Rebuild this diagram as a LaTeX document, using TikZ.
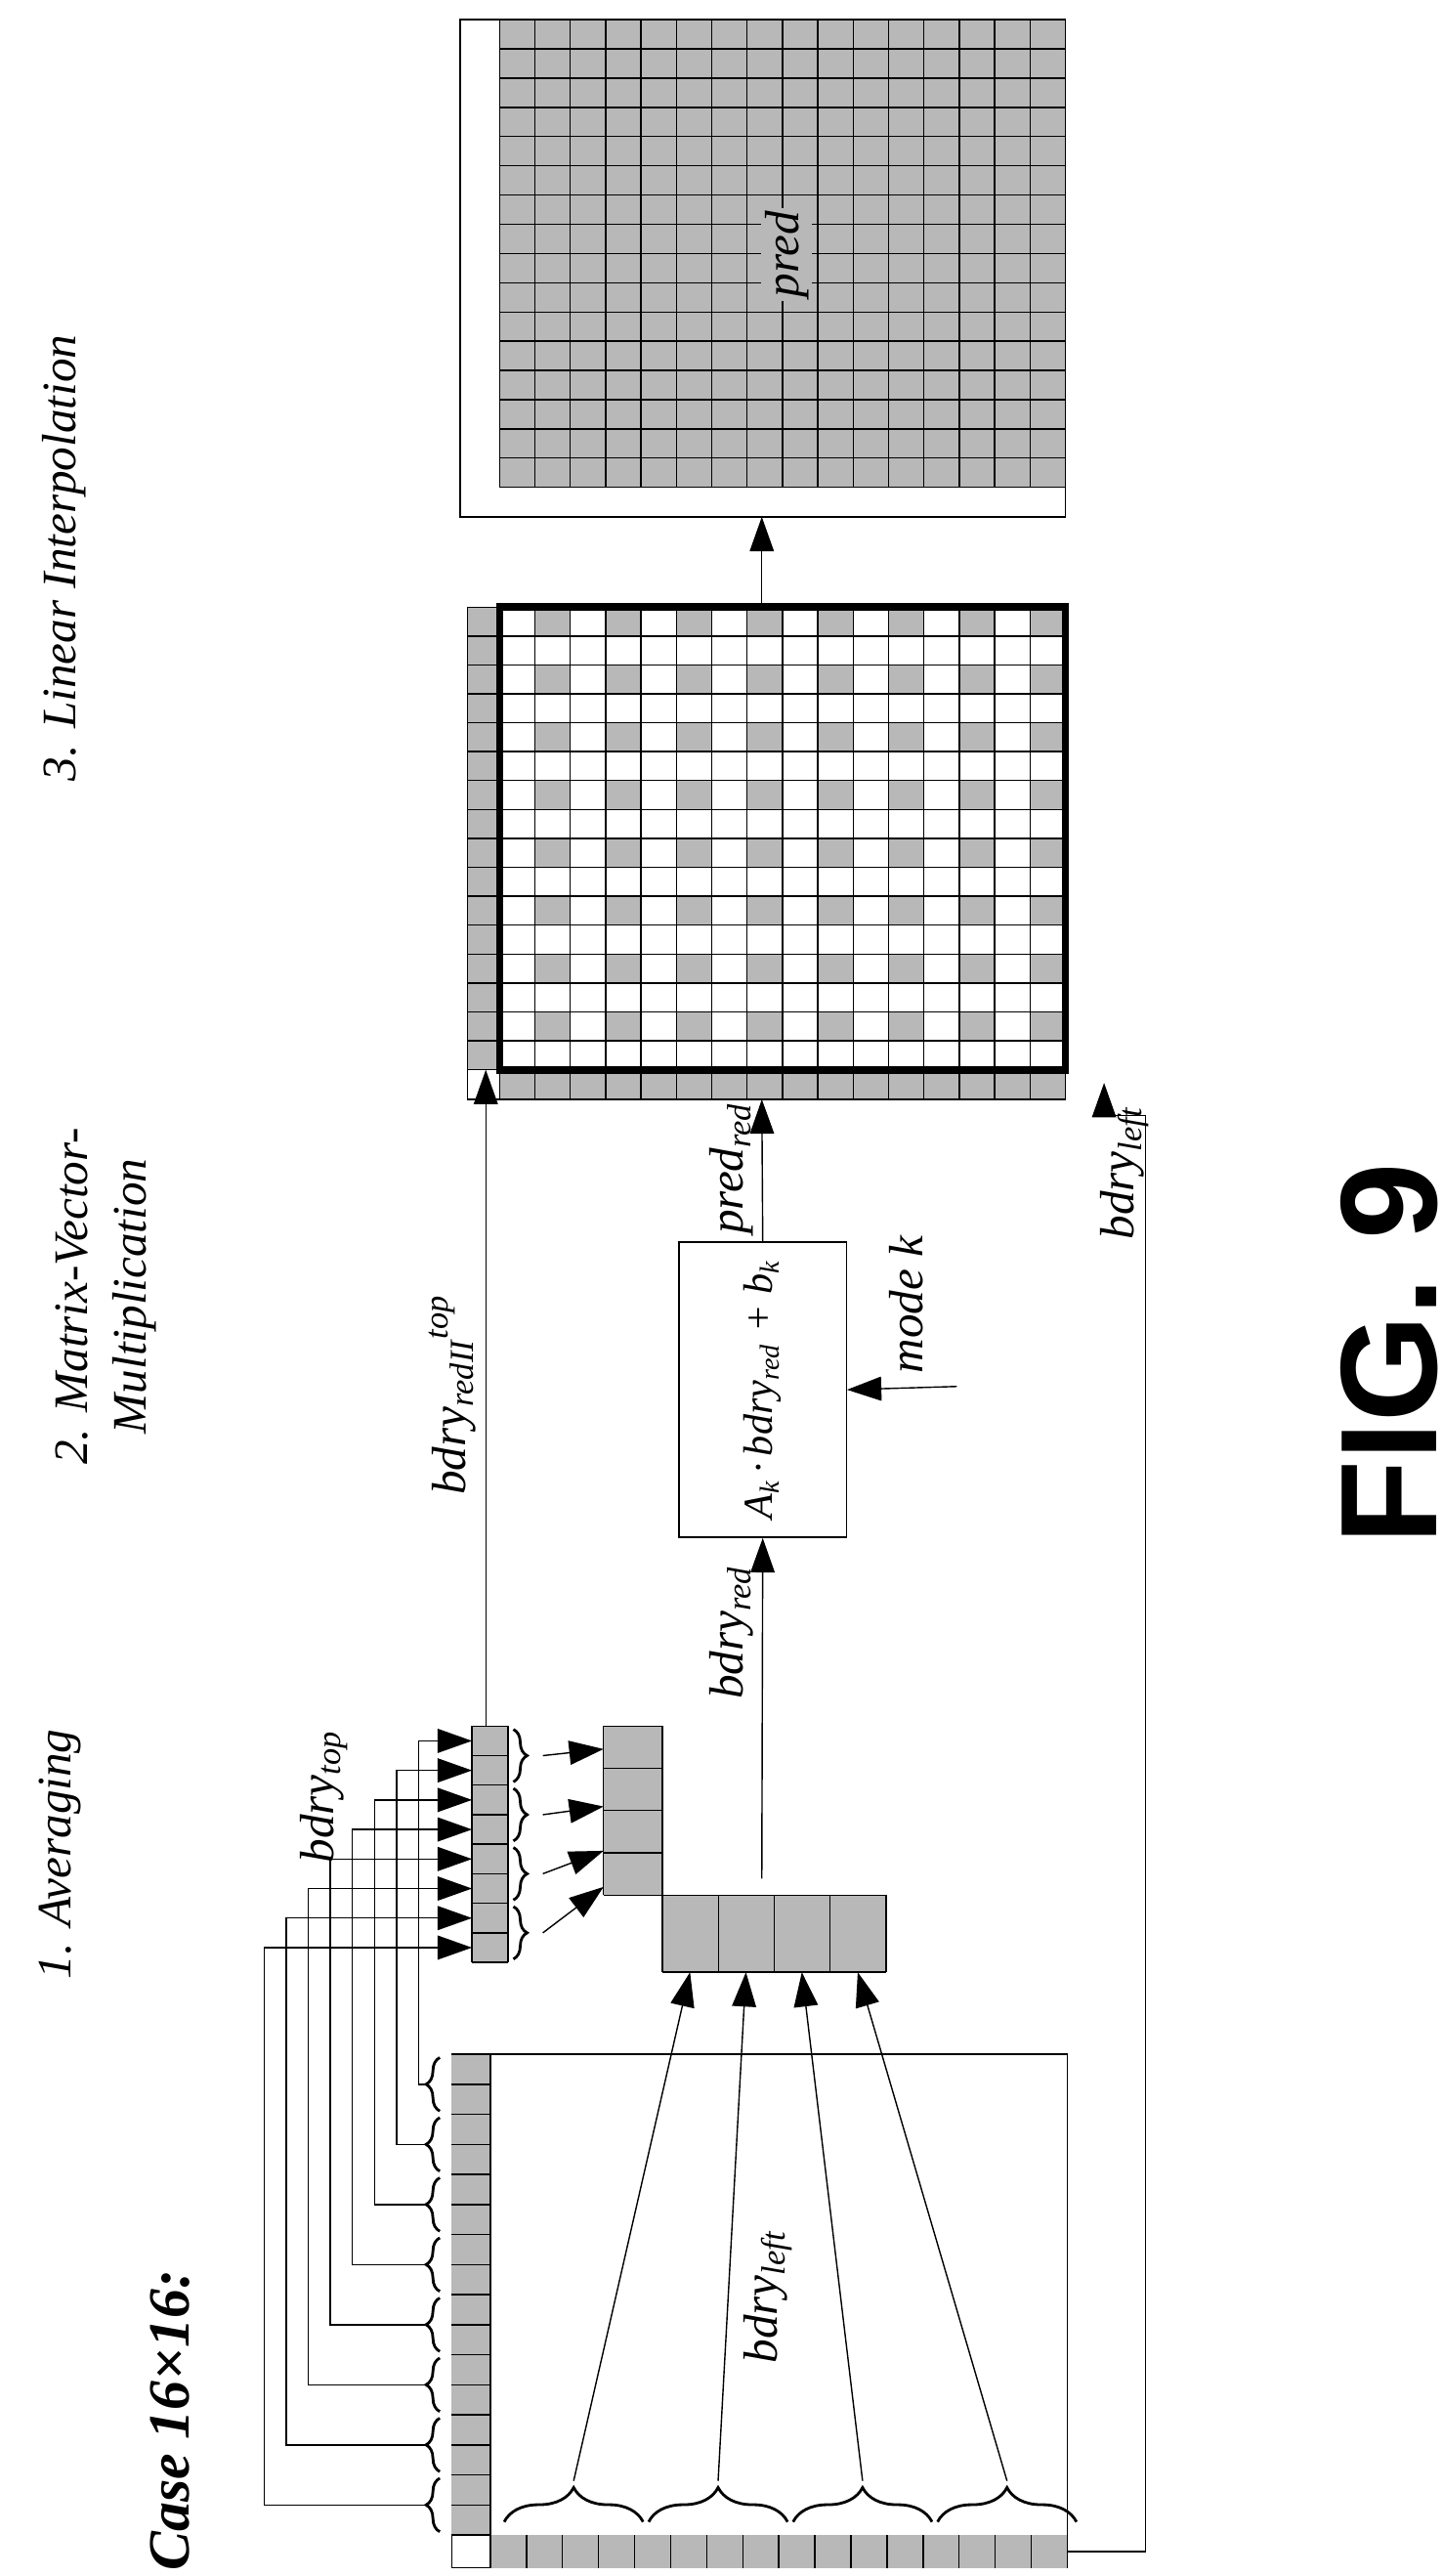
\documentclass[tikz,border=0pt]{standalone}
\usepackage{fontspec}
\setmainfont{Liberation Serif}
\newfontfamily\figfont{Liberation Sans}
\usetikzlibrary{arrows.meta, decorations.pathreplacing}
\definecolor{cellgray}{gray}{0.72}
\newcommand{\lsub}[2]{\textit{#1}\textsubscript{\textit{#2}}}

\begin{document}
\begin{tikzpicture}[x={(0.00942cm,0)}, y={(0,-0.01679cm)}]

\tikzset{cellbox/.style = {draw, thin}}
\tikzset{lbl/.style = {rotate=90, inner sep=1pt, font=\fontsize{14}{17}\selectfont\itshape}}
\tikzset{arr/.style = {-{Triangle[length=10pt,width=7pt]}, thin}}
\tikzset{brc/.style = {decorate, decoration={brace, amplitude=4pt}, thick}}

\useasboundingbox (0,0) rectangle (1568,1570);

% stage titles
\node[lbl] (avg) at (65,1130) {1. Averaging};
\node[lbl, align=center] (mvmt) at (115,790) {2. Matrix-Vector-\\Multiplication};
\node[lbl] (lint) at (70,340) {3. Linear Interpolation};
\node[lbl, font=\fontsize{17}{20}\selectfont\bfseries\itshape] (case) at (185,1475) {Case 16×16:};
\node[rotate=90, font=\fontsize{40}{44}\selectfont\figfont\bfseries] (fig) at (1510,825) {FIG. 9};

% final prediction
\fill[cellgray] (543,12) rectangle (1158,297);
\foreach \i in {0,...,16} \draw ({543+\i*38.4375},12) -- ({543+\i*38.4375},297);
\foreach \j in {0,...,16} \draw (543,{12+\j*17.8125}) -- (1158,{12+\j*17.8125});
\draw (500,12) rectangle (1158,315);
\node[lbl, fill=cellgray] (pred) at (855,155) {pred};
\coordinate (predin) at (828,315);

% reduced prediction inside 16x16
\fill[cellgray] (508,370) rectangle (543,652);
\fill[cellgray] (543,652) rectangle (1158,670);
\foreach \c in {1,3,...,15}
  \foreach \r in {0,2,...,14}
    \fill[cellgray] ({543+\c*38.4375},{370+\r*17.625}) rectangle +(38.4375,17.625);
\foreach \i in {0,...,16} \draw ({543+\i*38.4375},370) -- ({543+\i*38.4375},670);
\draw (508,370) -- (508,670);
\foreach \j in {0,...,16} \draw (508,{370+\j*17.625}) -- (1158,{370+\j*17.625});
\draw (508,670) -- (1158,670);
\draw[line width=2.2pt] (543,370) rectangle (1158,652);
\coordinate (midout) at (828,370);
\coordinate (midin) at (828,670);
\coordinate (topin) at (528,652);
\coordinate (leftin) at (1200,660);

% matrix vector box
\node[rotate=90, draw, minimum width=3.02cm, minimum height=1.71cm, font=\fontsize{12}{15}\selectfont\itshape] (mvm) at (829,847)
  {A\textsubscript{k}\,·\,\lsub{bdry}{red} + b\textsubscript{k}};
\coordinate (modek) at (1040,845);
\node[lbl] (modelbl) at (985,795) {mode k};

% boundary block
\draw (491,1252) rectangle (1160,1565);
\fill[cellgray] (491,1252) rectangle (533,1545);
\fill[cellgray] (533,1545) rectangle (1160,1565);
\foreach \j in {0,...,16} \draw (491,{1252+\j*18.3125}) -- (533,{1252+\j*18.3125});
\draw (533,1252) -- (533,1565);
\foreach \i in {0,...,16} \draw ({533+\i*39.1875},1545) -- ({533+\i*39.1875},1565);
\coordinate (blkout) at (1160,1555);
\node[lbl] (bleft) at (835,1400) {\lsub{bdry}{left}};

% averaged top boundary (8) and reduced vectors
\fill[cellgray] (513,1052) rectangle (552,1196);
\foreach \j in {0,...,8} \draw (513,{1052+\j*18}) -- (552,{1052+\j*18});
\draw (513,1052) -- (513,1196) (552,1052) -- (552,1196);
\fill[cellgray] (656,1052) rectangle (720,1155);
\foreach \j in {0,...,4} \draw (656,{1052+\j*25.75}) -- (720,{1052+\j*25.75});
\draw (656,1052) -- (656,1155) (720,1052) -- (720,1155);
\fill[cellgray] (720,1155) rectangle (963,1202);
\foreach \i in {0,...,4} \draw ({720+\i*60.75},1155) -- ({720+\i*60.75},1202);
\draw (720,1155) -- (963,1155) (720,1202) -- (963,1202);
\coordinate (col8) at (528,1052);
\coordinate (redout) at (828,1145);
\node[lbl] (btop) at (352,1095) {\lsub{bdry}{top}};

% wires from top boundary pairs
\foreach \i in {1,...,8} {
  \draw[brc] (478,{1252+36.625*\i-2}) -- (478,{1252+36.625*(\i-1)+2});
  \coordinate (b\i) at (462,{1252+36.625*(\i-0.5)});
  \coordinate (a\i) at (513,{1061+(\i-1)*18});
  \draw[arr] (b\i) -- ({455-(\i-1)*24},{1252+36.625*(\i-0.5)}) -- ({455-(\i-1)*24},{1061+(\i-1)*18}) -- (a\i);
}

% pairs of the 8 into reduced top
\foreach \k/\t in {1/1066, 2/1101, 3/1128, 4/1150} {
  \draw[brc] (558,{1052+36*(\k-1)+2}) -- (558,{1052+36*\k-2});
  \coordinate (s\k) at (590,{1052+36*(\k-0.5)});
  \coordinate (t\k) at (656,\t);
  \draw[arr] (s\k) -- (t\k);
}

% groups of the left boundary into reduced left
\foreach \k in {0,...,3} {
  \draw[brc, decoration={amplitude=10pt}] ({548+157*\k},1537) -- ({542+157*(\k+1)},1537);
  \coordinate (g\k) at ({545+157*(\k+0.5)},1512);
  \coordinate (r\k) at ({750+60.75*\k},1202);
  \draw[arr] (g\k) -- (r\k);
}

% connections
\draw[arr] (predin |- midout) -- (predin);
\draw[arr] (col8) -- (topin);
\node[lbl] (brtop) at (492,850) {\textit{bdry}\textsubscript{\textit{redII}}\textsuperscript{\textit{top}}};
\draw[arr] (redout) -- (mvm.west);
\node[lbl] (bred) at (795,995) {\lsub{bdry}{red}};
\draw[arr] (mvm.east) -- (midin);
\node[lbl] (predr) at (795,712) {\lsub{pred}{red}};
\draw[arr] (modek) -- (mvm.south);
\draw[arr] (blkout) -- (1245,1555) -- (1245,680) -| (leftin);
\node[lbl] (bleft2) at (1222,715) {\lsub{bdry}{left}};

\end{tikzpicture}
\end{document}
